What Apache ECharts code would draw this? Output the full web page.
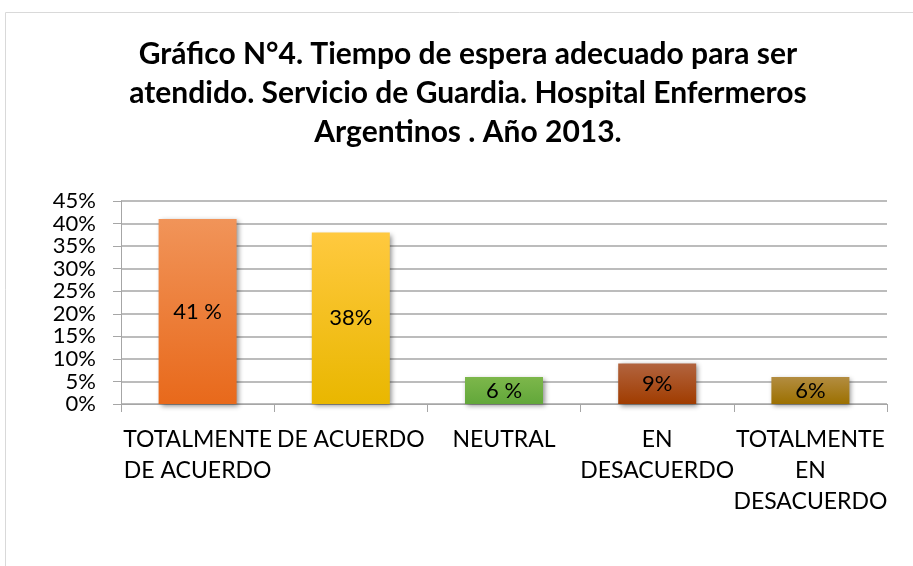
<!DOCTYPE html>
<html>
<head>
<meta charset="utf-8">
<script src="https://cdn.jsdelivr.net/npm/echarts@6/dist/echarts.min.js"></script>
<style>
  html, body { margin: 0; padding: 0; background: #fff; }
  #chart { width: 913px; height: 566px; }
</style>
</head>
<body>
<div id="chart"></div>
<script>
const categories = ['TOTALMENTE\nDE ACUERDO', 'DE ACUERDO', 'NEUTRAL', 'EN\nDESACUERDO', 'TOTALMENTE\nEN\nDESACUERDO']
const values = [41, 38, 6, 9, 6]
const valueLabels = ['41 %', '38%', '6 %', '9%', '6%']
const yTicks = [0, 5, 10, 15, 20, 25, 30, 35, 40, 45]
const titleText = 'Gráfico N°4. Tiempo de espera adecuado para ser\natendido. Servicio de Guardia. Hospital Enfermeros\nArgentinos . Año 2013.'

// colores de cada barra: arriba / abajo
const barColors = [
  ['#F19459', '#E8691B'],
  ['#FFC93F', '#E9B700'],
  ['#7DB74B', '#62A73A'],
  ['#B2643F', '#A03C00'],
  ['#B38D41', '#9C7000']
]

const chart = echarts.init(document.getElementById('chart'))
const font = 'Lato, "Noto Sans", sans-serif'

chart.setOption({
  animation: false,
  graphic: [{
    type: 'rect',
    shape: { x: 5.5, y: 12.5, width: 1000, height: 1000 },
    style: { fill: 'none', stroke: '#d9d9d9', lineWidth: 1 },
    silent: true
  }, {
    // titulo centrado sobre el area del grafico
    type: 'text',
    x: 468,
    y: 35,
    silent: true,
    style: {
      text: titleText,
      fontFamily: font,
      fontSize: 30,
      fontWeight: 'bold',
      fill: '#000',
      lineHeight: 39,
      align: 'center',
      verticalAlign: 'top'
    }
  }],
  grid: {
    left: 121,
    right: 26,
    top: 201,
    bottom: 162
  },
  xAxis: {
    type: 'category',
    data: categories,
    axisLine: { lineStyle: { color: '#a6a6a6', width: 1 } },
    axisTick: { show: true, length: 8, lineStyle: { color: '#a6a6a6' } },
    axisLabel: {
      interval: 0,
      margin: 20,
      fontFamily: font,
      fontSize: 23,
      lineHeight: 31,
      color: '#000'
    }
  },
  yAxis: {
    type: 'value',
    min: 0,
    max: 45,
    interval: 5,
    axisLine: { show: true, lineStyle: { color: '#a6a6a6', width: 1 } },
    axisTick: { show: true, length: 8, lineStyle: { color: '#a6a6a6' } },
    axisLabel: {
      margin: 25,
      fontFamily: font,
      fontSize: 22,
      color: '#000',
      formatter: v => yTicks.indexOf(v) >= 0 ? v + '%' : ''
    },
    splitLine: { show: true, lineStyle: { color: '#a6a6a6', width: 1.5 } }
  },
  series: [{
    type: 'bar',
    barWidth: 78,
    data: values.map((v, i) => ({
      value: v,
      itemStyle: {
        color: new echarts.graphic.LinearGradient(0, 0, 0, 1, [
          { offset: 0, color: barColors[i][0] },
          { offset: 1, color: barColors[i][1] }
        ])
      }
    })),
    itemStyle: {
      shadowColor: 'rgba(0,0,0,0.45)',
      shadowBlur: 5,
      shadowOffsetX: 2,
      shadowOffsetY: 2
    },
    label: {
      show: true,
      position: 'inside',
      fontFamily: font,
      fontSize: 22,
      color: '#000',
      formatter: p => valueLabels[p.dataIndex]
    }
  }]
})
</script>
</body>
</html>
